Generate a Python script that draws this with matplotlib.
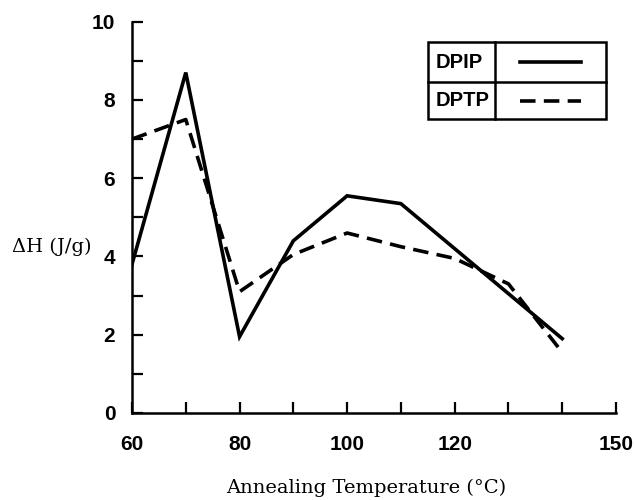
import matplotlib
matplotlib.use("Agg")
import matplotlib.pyplot as plt
from matplotlib.patches import Rectangle
from matplotlib.lines import Line2D

# Температура отжига, °C
temps = [60, 70, 80, 90, 100, 110, 120, 130, 140]
# Энтальпия плавления, Дж/г
dpip = [3.8, 8.7, 1.95, 4.4, 5.55, 5.35, 4.2, 3.05, 1.9]
dptp = [7.0, 7.5, 3.1, 4.05, 4.6, 4.25, 3.95, 3.3, 1.55]

x_ticks = [60, 70, 80, 90, 100, 110, 120, 130, 140, 150]
x_tick_labels = ["60", "", "80", "", "100", "", "120", "", "", "150"]
y_ticks = list(range(0, 11))
y_tick_labels = [str(v) if v % 2 == 0 else "" for v in y_ticks]

sans = ["Liberation Sans", "DejaVu Sans"]
serif = ["DejaVu Serif"]

W, H = 635, 500
fig = plt.figure(figsize=(W / 100, H / 100), dpi=100)
ax = fig.add_axes([132 / W, 1 - 413 / H, (616 - 132) / W, (413 - 21.7) / H])

lw = 2.6
dash = (0, (4.3, 2.3))
ax.plot(temps, dpip, color="black", lw=lw, solid_joinstyle="miter")
ax.plot(temps, dptp, color="black", lw=lw, linestyle=dash)

ax.set_xlim(60, 150)
ax.set_ylim(0, 10)
for s in ("top", "right"):
    ax.spines[s].set_visible(False)
for s in ("left", "bottom"):
    ax.spines[s].set_linewidth(1.8)

ax.set_xticks(x_ticks)
ax.set_xticklabels(x_tick_labels)
ax.set_yticks(y_ticks)
ax.set_yticklabels(y_tick_labels)
ax.tick_params(axis="both", direction="in", length=8, width=1.6,
               labelsize=15)
ax.tick_params(axis="x", pad=16)
ax.tick_params(axis="y", pad=12)
for lab in ax.get_xticklabels() + ax.get_yticklabels():
    lab.set_fontweight("bold")
    lab.set_family(sans)

# Подписи осей шрифтом с засечками
fig.text(12 / W, 1 - 247 / H, "ΔH (J/g)", family=serif,
         fontsize=14, ha="left", va="center")
fig.text(366 / W, 1 - 488 / H, "Annealing Temperature (°C)",
         family=serif, fontsize=14, ha="center", va="center")

# Легенда в виде таблицы
x0, x1, xm = 428, 606, 495
y0, y1, ym = 42, 119, 82


def fx(px):
    return px / W


def fy(py):
    return 1 - py / H


box = Rectangle((fx(x0), fy(y1)), fx(x1) - fx(x0), fy(y0) - fy(y1),
                transform=fig.transFigure, fill=False, lw=1.8,
                edgecolor="black")
fig.add_artist(box)
fig.add_artist(Line2D([fx(xm), fx(xm)], [fy(y0), fy(y1)],
                      transform=fig.transFigure, color="black", lw=1.8))
fig.add_artist(Line2D([fx(x0), fx(x1)], [fy(ym), fy(ym)],
                      transform=fig.transFigure, color="black", lw=1.8))

rows = [("DPIP", "-", (y0 + ym) / 2), ("DPTP", dash, (ym + y1) / 2)]
for name, ls, yc in rows:
    fig.text(fx(436), fy(yc), name, fontsize=14.5, fontweight="bold",
             family=sans, ha="left", va="center")
    fig.add_artist(Line2D([fx(520), fx(581)], [fy(yc), fy(yc)],
                          transform=fig.transFigure, color="black",
                          lw=lw, linestyle=ls))

fig.savefig("out.png", dpi=100, facecolor="white")
